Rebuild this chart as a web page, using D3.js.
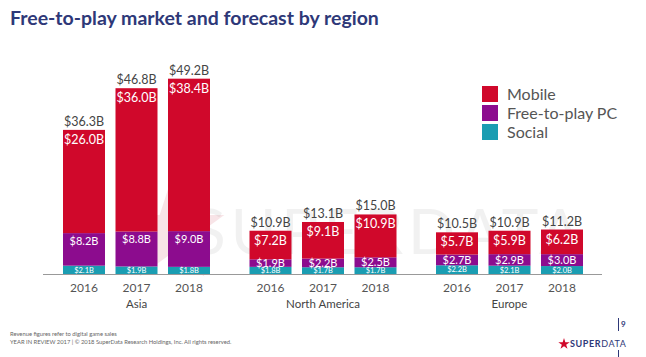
<!DOCTYPE html>
<html><head><meta charset="utf-8">
<script src="https://cdn.jsdelivr.net/npm/d3@7/dist/d3.min.js"></script>
<style>body{margin:0;background:#fff}svg{display:block;font-family:Lato,"Open Sans",sans-serif}</style>
</head><body><svg id="c" width="646" height="357"></svg>
<script>
const regions = ["Asia", "North America", "Europe"];
const years = ["2016", "2017", "2018"];
const series = ["Mobile", "Free-to-play PC", "Social"];
const social = [[2.1, 1.9, 1.8], [1.8, 1.7, 1.7], [2.2, 2.1, 2.0]];
const pc     = [[8.2, 8.8, 9.0], [1.9, 2.2, 2.5], [2.7, 2.9, 3.0]];
const mobile = [[26.0, 36.0, 38.4], [7.2, 9.1, 10.9], [5.7, 5.9, 6.2]];
const totals = [[36.3, 46.8, 49.2], [10.9, 13.1, 15.0], [10.5, 10.9, 11.2]];
const colors = {"Mobile": "#d0082b", "Free-to-play PC": "#8c0c8e", "Social": "#1a9db2"};

const svg = d3.select("#c");
const fmt = v => "$" + v.toFixed(1) + "B";

// title
svg.append("text").attr("x", 10).attr("y", 25).attr("fill", "#2e3878")
  .attr("font-size", 19.5).attr("font-weight", 700).text("Free-to-play market and forecast by region");

const x0 = d3.scaleBand().domain(regions).range([63, 63 + 3 * 186.5]);
const x1 = d3.scaleBand().domain(years).range([0, 147]).paddingInner(0.2);
const y = d3.scaleLinear().domain([0, 50]).range([274, 75.5]);

// watermark
const wm = svg.append("g");
wm.append("path").attr("d", d3.symbol(d3.symbolStar, 3400)()).attr("transform", "translate(172,232)").attr("fill", "#c2223a").attr("opacity", 0.12);
wm.append("text").attr("x", 192).attr("y", 254).attr("font-size", 62).attr("fill", "#999").attr("opacity", 0.13).attr("letter-spacing", 5).text("SUPERDATA");

// bars
const data = [];
regions.forEach((r, i) => years.forEach((yr, j) => {
  data.push({r, yr, s: social[i][j], p: pc[i][j], m: mobile[i][j], t: totals[i][j]});
}));

const g = svg.append("g");
data.forEach(d => {
  const bx = x0(d.r) + x1(d.yr), bw = x1.bandwidth(), cx = bx + bw / 2;
  const s0 = 0, s1 = d.s, p1 = d.s + d.p, m1 = d.t;
  g.append("rect").attr("x", bx).attr("width", bw).attr("y", y(s1)).attr("height", y(s0) - y(s1)).attr("fill", colors["Social"]);
  g.append("rect").attr("x", bx).attr("width", bw).attr("y", y(p1)).attr("height", y(s1) - y(p1)).attr("fill", colors["Free-to-play PC"]);
  g.append("rect").attr("x", bx).attr("width", bw).attr("y", y(m1)).attr("height", y(p1) - y(m1)).attr("fill", colors["Mobile"]);
  // labels
  g.append("text").attr("x", cx).attr("y", y(m1) - 4).attr("text-anchor", "middle").attr("font-size", 12.5).attr("fill", "#444").text(fmt(d.t));
  g.append("text").attr("x", cx).attr("y", y(m1) + 14).attr("text-anchor", "middle").attr("font-size", 12.5).attr("fill", "#fff").text(fmt(d.m));
  const pMid = Math.min(y(p1) + 8, (y(p1) + y(s1)) / 2);
  g.append("text").attr("x", cx).attr("y", pMid).attr("dy", "0.36em").attr("text-anchor", "middle").attr("font-size", 11).attr("fill", "#fff").text(fmt(d.p));
  g.append("text").attr("x", cx).attr("y", (y(s1) + y(s0)) / 2).attr("dy", "0.36em").attr("text-anchor", "middle").attr("font-size", 7.5).attr("fill", "#fff").text(fmt(d.s));
  g.append("text").attr("x", cx).attr("y", 292).attr("text-anchor", "middle").attr("font-size", 12).attr("fill", "#555").text(d.yr);
});

// baseline
svg.append("line").attr("x1", 43).attr("x2", 602).attr("y1", y(0) + 0.5).attr("y2", y(0) + 0.5).attr("stroke", "#999").attr("stroke-width", 1);

// region labels
regions.forEach(r => {
  svg.append("text").attr("x", x0(r) + x1("2017") + x1.bandwidth() / 2).attr("y", 308)
    .attr("text-anchor", "middle").attr("font-size", 11.5).attr("fill", "#444").text(r);
});

// legend
const lg = svg.append("g");
series.forEach((s, i) => {
  lg.append("rect").attr("x", 482).attr("y", 86 + i * 19).attr("width", 16).attr("height", 16).attr("fill", colors[s]);
  lg.append("text").attr("x", 507).attr("y", 100 + i * 19).attr("font-size", 16).attr("fill", "#555").text(s);
});

// footer
svg.append("text").attr("x", 10).attr("y", 336).attr("font-size", 5.8).attr("fill", "#666").text("Revenue figures refer to digital game sales");
svg.append("text").attr("x", 10).attr("y", 344).attr("font-size", 5.8).attr("fill", "#666").text("YEAR IN REVIEW 2017  |  © 2018 SuperData Research Holdings, Inc. All rights reserved.");
svg.append("line").attr("x1", 618.5).attr("x2", 618.5).attr("y1", 318).attr("y2", 331).attr("stroke", "#2e3878").attr("stroke-width", 1);
svg.append("line").attr("x1", 618.5).attr("x2", 618.5).attr("y1", 350).attr("y2", 357).attr("stroke", "#2e3878").attr("stroke-width", 1);
svg.append("text").attr("x", 621).attr("y", 327).attr("font-size", 8).attr("font-weight", 700).attr("fill", "#2e3878").text("9");
svg.append("path").attr("d", d3.symbol(d3.symbolStar, 40)()).attr("transform", "translate(564,344)").attr("fill", "#d0082b");
const lt = svg.append("text").attr("x", 570).attr("y", 347).attr("font-size", 9).attr("fill", "#2e3878").attr("letter-spacing", 0.6);
lt.append("tspan").attr("font-weight", 700).text("SUPER");
lt.append("tspan").text("DATA");
</script></body></html>
